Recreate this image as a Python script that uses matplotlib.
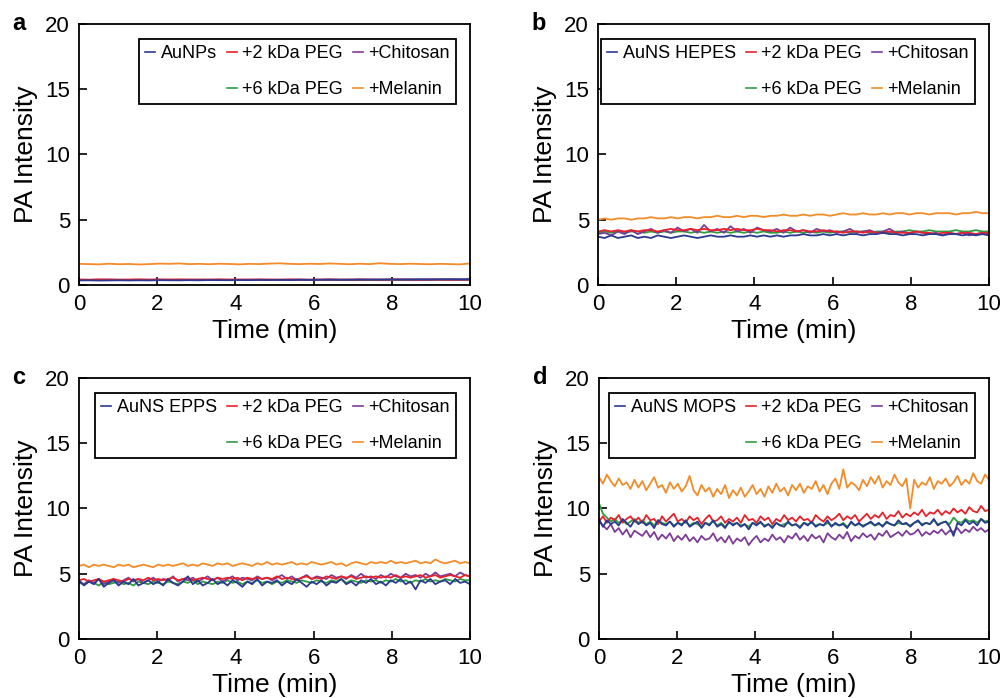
import numpy as np
import matplotlib
matplotlib.use('Agg')
import matplotlib.pyplot as plt
from matplotlib.lines import Line2D

plt.rcParams['font.family'] = ['Liberation Sans', 'DejaVu Sans']

#=====================================
# series names + colours (legend order)
names_a = ['AuNPs', '+2 kDa PEG', '+Chitosan', '+6 kDa PEG', '+Melanin']
names_b = ['AuNS HEPES', '+2 kDa PEG', '+Chitosan', '+6 kDa PEG', '+Melanin']
names_c = ['AuNS EPPS', '+2 kDa PEG', '+Chitosan', '+6 kDa PEG', '+Melanin']
names_d = ['AuNS MOPS', '+2 kDa PEG', '+Chitosan', '+6 kDa PEG', '+Melanin']
colors = ['#2b3990', '#e8222a', '#7d3c98', '#2e9e3e', '#f28c28']

#=====================================
# panel a
a_blue = [0.35, 0.36, 0.34, 0.35, 0.36, 0.35, 0.36, 0.35, 0.37, 0.36,
          0.36, 0.37, 0.36, 0.38, 0.37, 0.37, 0.38, 0.37, 0.39, 0.38,
          0.39, 0.38, 0.40, 0.39, 0.40, 0.41, 0.40, 0.41, 0.42, 0.41,
          0.42, 0.43, 0.42, 0.43, 0.44, 0.43, 0.44, 0.45, 0.44, 0.45]
a_red = [0.42, 0.41, 0.43, 0.42, 0.41, 0.42, 0.43, 0.41, 0.42, 0.42,
         0.43, 0.42, 0.41, 0.42, 0.43, 0.42, 0.42, 0.41, 0.43, 0.42,
         0.42, 0.43, 0.42, 0.41, 0.42, 0.43, 0.42, 0.42, 0.43, 0.42,
         0.41, 0.42, 0.43, 0.42, 0.42, 0.43, 0.42, 0.41, 0.42, 0.42]
a_purple = [0.40, 0.39, 0.40, 0.41, 0.40, 0.39, 0.40, 0.40, 0.41, 0.40,
            0.39, 0.40, 0.41, 0.40, 0.40, 0.39, 0.40, 0.41, 0.40, 0.40,
            0.39, 0.40, 0.41, 0.40, 0.40, 0.41, 0.40, 0.39, 0.40, 0.41,
            0.40, 0.40, 0.41, 0.40, 0.39, 0.40, 0.41, 0.40, 0.40, 0.41]
a_green = [0.38, 0.37, 0.38, 0.39, 0.38, 0.37, 0.38, 0.38, 0.39, 0.38,
           0.37, 0.38, 0.39, 0.38, 0.38, 0.37, 0.38, 0.39, 0.38, 0.38,
           0.37, 0.38, 0.39, 0.38, 0.38, 0.39, 0.38, 0.37, 0.38, 0.39,
           0.38, 0.38, 0.39, 0.38, 0.37, 0.38, 0.39, 0.38, 0.38, 0.39]
a_orange = [1.62, 1.60, 1.58, 1.63, 1.59, 1.61, 1.57, 1.60, 1.64, 1.62,
            1.65, 1.60, 1.62, 1.59, 1.63, 1.61, 1.58, 1.62, 1.60, 1.64,
            1.66, 1.62, 1.60, 1.63, 1.61, 1.65, 1.62, 1.59, 1.63, 1.60,
            1.67, 1.62, 1.60, 1.63, 1.61, 1.59, 1.62, 1.60, 1.58, 1.65]

#=====================================
# panel b
b_blue = [3.7, 3.6, 3.8, 3.6, 3.7, 3.8, 3.6, 3.7, 3.6, 3.8,
          3.7, 3.6, 3.7, 3.8, 3.7, 3.6, 3.7, 3.8, 3.7, 3.7,
          3.8, 3.7, 3.7, 3.8, 3.7, 3.8, 3.7, 3.8, 3.7, 3.8,
          3.8, 3.9, 3.8, 3.8, 3.9, 3.8, 3.9, 3.8, 3.9, 3.9,
          3.8, 3.9, 3.9, 4.0, 3.9, 3.9, 3.8, 3.9, 3.9, 3.8,
          3.9, 3.9, 3.8, 3.9, 3.9, 3.8, 3.9, 3.8, 3.9, 3.8]
b_red = [4.1, 4.2, 4.1, 4.2, 4.1, 4.2, 4.1, 4.2, 4.2, 4.1,
         4.2, 4.3, 4.2, 4.2, 4.3, 4.2, 4.3, 4.2, 4.2, 4.3,
         4.2, 4.3, 4.2, 4.2, 4.3, 4.2, 4.2, 4.1, 4.2, 4.2,
         4.1, 4.2, 4.1, 4.1, 4.2, 4.1, 4.1, 4.0, 4.1, 4.1,
         4.0, 4.1, 4.0, 4.0, 4.1, 4.0, 4.0, 4.0, 4.1, 4.0,
         4.0, 3.9, 4.0, 4.0, 3.9, 4.0, 4.0, 3.9, 4.0, 4.0]
b_purple = [3.9, 4.0, 3.8, 4.1, 3.9, 4.2, 3.9, 4.1, 4.3, 4.0,
            4.2, 4.0, 4.4, 4.1, 4.3, 4.0, 4.6, 4.1, 4.3, 4.0,
            4.5, 4.1, 4.3, 4.0, 4.4, 4.2, 4.1, 4.3, 4.0, 4.4,
            4.1, 4.2, 4.0, 4.3, 4.1, 4.2, 4.0, 4.1, 4.3, 4.0,
            4.1, 4.2, 4.0, 4.1, 4.3, 4.0, 4.1, 3.9, 4.1, 4.0,
            3.9, 4.0, 3.8, 4.0, 3.9, 4.0, 3.8, 3.9, 4.0, 3.9]
b_green = [4.0, 4.1, 4.0, 4.1, 4.0, 4.1, 4.1, 4.0, 4.1, 4.0,
           4.1, 4.0, 4.1, 4.1, 4.0, 4.1, 4.0, 4.1, 4.0, 4.1,
           4.0, 4.1, 4.0, 4.1, 4.0, 4.1, 4.0, 4.0, 4.1, 4.0,
           4.1, 4.0, 4.1, 4.0, 4.1, 4.0, 4.1, 4.1, 4.0, 4.1,
           4.1, 4.0, 4.1, 4.1, 4.0, 4.1, 4.1, 4.2, 4.1, 4.1,
           4.2, 4.1, 4.1, 4.1, 4.2, 4.1, 4.1, 4.2, 4.1, 4.1]
b_orange = [5.0, 5.1, 5.0, 5.1, 5.1, 5.0, 5.1, 5.1, 5.2, 5.1,
            5.1, 5.2, 5.1, 5.2, 5.2, 5.1, 5.2, 5.2, 5.3, 5.2,
            5.2, 5.3, 5.2, 5.3, 5.3, 5.2, 5.3, 5.3, 5.4, 5.3,
            5.3, 5.4, 5.3, 5.4, 5.4, 5.3, 5.4, 5.5, 5.4, 5.4,
            5.5, 5.4, 5.4, 5.5, 5.4, 5.5, 5.5, 5.4, 5.5, 5.5,
            5.4, 5.5, 5.5, 5.5, 5.4, 5.5, 5.5, 5.6, 5.5, 5.5]

#=====================================
# panel c
c_blue = [4.5, 4.1, 4.4, 4.2, 4.6, 4.0, 4.3, 4.5, 4.1, 4.4,
          4.2, 4.6, 4.1, 4.3, 4.5, 4.2, 4.4, 4.1, 4.6, 4.3,
          4.1, 4.4, 4.8, 4.2, 4.5, 4.1, 4.3, 4.6, 4.2, 4.4,
          4.1, 4.5, 4.3, 4.0, 4.4, 4.2, 4.6, 4.1, 4.4, 4.3,
          4.5, 4.1, 4.4, 4.2, 4.6, 4.3, 4.0, 4.4, 4.2, 4.5,
          4.1, 4.4, 4.3, 4.6, 4.2, 4.4, 4.1, 4.5, 4.3, 4.6,
          4.2, 4.4, 4.1, 4.5, 4.3, 4.6, 4.2, 4.4, 3.8, 4.5,
          4.3, 4.6, 4.2, 4.4, 4.5, 4.2, 4.6, 4.3, 4.4, 4.2]
c_red = [4.5, 4.6, 4.4, 4.5, 4.6, 4.4, 4.5, 4.6, 4.5, 4.4,
         4.6, 4.5, 4.6, 4.5, 4.7, 4.5, 4.6, 4.5, 4.6, 4.7,
         4.5, 4.6, 4.7, 4.5, 4.6, 4.7, 4.6, 4.5, 4.7, 4.6,
         4.7, 4.6, 4.7, 4.5, 4.7, 4.6, 4.7, 4.6, 4.7, 4.6,
         4.8, 4.6, 4.7, 4.6, 4.5, 4.7, 4.8, 4.6, 4.7, 4.6,
         4.8, 4.7, 4.6, 4.8, 4.7, 4.8, 4.6, 4.7, 4.8, 4.7,
         4.8, 4.7, 4.8, 4.7, 4.9, 4.7, 4.8, 4.7, 4.8, 4.9,
         4.7, 4.8, 4.9, 4.7, 4.8, 4.9, 4.8, 4.7, 4.9, 4.8]
c_purple = [4.4, 4.2, 4.5, 4.3, 4.6, 4.2, 4.4, 4.6, 4.3, 4.5,
            4.7, 4.4, 4.6, 4.3, 4.5, 4.7, 4.4, 4.6, 4.5, 4.8,
            4.4, 4.6, 4.5, 4.7, 4.4, 4.6, 4.8, 4.5, 4.7, 4.4,
            4.6, 4.8, 4.5, 4.7, 4.6, 4.5, 4.8, 4.6, 4.7, 4.5,
            4.7, 4.9, 4.6, 4.8, 4.5, 4.7, 4.9, 4.6, 4.8, 4.7,
            4.6, 4.9, 4.7, 4.8, 4.6, 4.9, 4.7, 5.0, 4.7, 4.8,
            4.6, 4.9, 4.7, 5.0, 4.8, 4.7, 5.0, 4.8, 4.9, 4.7,
            5.0, 4.8, 5.1, 4.8, 4.9, 5.0, 4.8, 5.1, 4.9, 4.8]
c_green = [4.3, 4.2, 4.4, 4.3, 4.1, 4.4, 4.2, 4.3, 4.4, 4.2,
           4.3, 4.1, 4.4, 4.3, 4.2, 4.4, 4.3, 4.2, 4.4, 4.3,
           4.2, 4.4, 4.3, 4.5, 4.2, 4.4, 4.3, 4.2, 4.4, 4.3,
           4.5, 4.3, 4.4, 4.2, 4.4, 4.3, 4.5, 4.3, 4.4, 4.2,
           4.4, 4.3, 4.5, 4.4, 4.3, 4.5, 4.4, 4.3, 4.5, 4.4,
           4.3, 4.5, 4.4, 4.6, 4.3, 4.5, 4.4, 4.3, 4.5, 4.4,
           4.5, 4.3, 4.5, 4.4, 4.6, 4.4, 4.5, 4.3, 4.5, 4.4,
           4.6, 4.4, 4.5, 4.4, 4.6, 4.5, 4.4, 4.6, 4.5, 4.5]
c_orange = [5.6, 5.7, 5.5, 5.7, 5.6, 5.7, 5.6, 5.5, 5.7, 5.6,
            5.7, 5.5, 5.6, 5.7, 5.6, 5.5, 5.7, 5.6, 5.7, 5.6,
            5.7, 5.8, 5.6, 5.7, 5.6, 5.8, 5.7, 5.6, 5.8, 5.7,
            5.8, 5.6, 5.7, 5.8, 5.7, 5.6, 5.8, 5.7, 5.9, 5.7,
            5.8, 5.7, 5.8, 5.9, 5.7, 5.8, 5.7, 5.9, 5.8, 5.7,
            5.8, 5.9, 5.7, 5.8, 5.6, 5.8, 5.9, 5.8, 5.7, 5.9,
            5.8, 5.9, 5.8, 6.0, 5.8, 5.9, 5.8, 5.9, 6.0, 5.8,
            5.9, 5.8, 6.1, 5.9, 5.8, 5.9, 6.0, 5.8, 5.9, 5.8]

#=====================================
# panel d
d_blue = [9.2, 8.6, 9.1, 8.8, 9.0, 8.7, 9.2, 8.9, 8.6, 9.1,
          8.8, 9.0, 8.7, 8.9, 8.5, 9.1, 8.8, 8.7, 9.0, 8.6,
          8.9, 8.7, 9.1, 8.6, 8.8, 9.0, 8.5, 8.9, 8.7, 9.1,
          8.6, 8.8, 8.5, 9.0, 8.7, 8.9, 8.6, 8.8, 8.4, 8.9,
          8.7, 9.0, 8.6, 8.8, 8.5, 8.9, 8.7, 8.6, 9.0, 8.7,
          8.8, 8.5, 8.9, 8.7, 9.0, 8.6, 8.8, 8.7, 9.1, 8.6,
          8.9, 8.7, 8.8, 8.5, 9.0, 8.7, 8.9, 8.6, 8.8, 9.0,
          8.7, 8.9, 8.6, 9.0, 8.8, 8.7, 9.1, 8.8, 8.9, 8.6,
          8.9, 9.1, 8.7, 8.9, 8.8, 9.2, 8.7, 8.9, 9.0, 8.6,
          7.9, 8.9, 8.7, 9.1, 8.8, 9.0, 8.7, 9.2, 8.9, 9.0]
d_red = [9.0, 9.4, 8.9, 9.3, 9.1, 9.5, 8.9, 9.2, 9.4, 9.0,
         9.3, 8.9, 9.5, 9.1, 9.2, 8.8, 9.4, 9.0, 9.3, 9.6,
         9.0, 9.2, 8.9, 9.4, 9.1, 9.3, 8.8, 9.2, 9.5, 9.0,
         9.1, 9.4, 8.9, 9.2, 9.0, 9.3, 8.9, 9.5, 9.1, 9.2,
         8.9, 9.4, 9.1, 9.3, 8.8, 9.2, 9.0, 9.5, 9.1, 9.3,
         9.0, 9.4, 9.1, 9.2, 8.9, 9.5, 9.2, 9.0, 9.4, 9.1,
         9.3, 9.6, 9.1, 9.4, 9.2, 9.5, 9.0, 9.3, 9.6, 9.2,
         9.5, 9.3, 9.7, 9.2, 9.5, 9.4, 9.8, 9.3, 9.6, 9.4,
         9.7, 9.5, 9.9, 9.4, 9.7, 9.6, 9.9, 9.5, 9.8, 9.6,
         10.0, 9.7, 9.9, 9.6, 10.1, 9.8, 9.7, 10.2, 9.8, 9.9]
d_purple = [9.0, 8.7, 8.4, 8.8, 8.2, 8.5, 8.0, 8.4, 7.8, 8.3,
            8.1, 7.9, 8.3, 7.8, 8.2, 7.6, 8.0, 7.7, 8.1, 7.5,
            7.9, 7.6, 8.0, 7.5, 7.8, 7.4, 7.9, 7.6, 7.7, 8.1,
            7.5, 7.8, 7.4, 7.9, 7.3, 7.7, 7.5, 7.8, 7.2, 7.6,
            7.9, 7.4, 7.7, 7.5, 8.0, 7.6, 7.8, 7.4, 7.9, 7.7,
            8.1, 7.6, 7.9, 7.5, 8.0, 7.7, 7.9, 7.4, 8.1, 7.8,
            7.6, 8.0, 7.7, 8.2, 7.5, 7.9, 7.7, 8.1, 7.8, 8.0,
            7.6, 8.1, 7.9, 8.3, 7.8, 8.0, 8.2, 7.9, 8.3, 8.0,
            8.1, 8.4, 7.9, 8.2, 8.0, 8.3, 8.1, 8.4, 8.0, 8.3,
            8.2, 8.5, 8.1, 8.4, 8.2, 8.6, 8.3, 8.5, 8.2, 8.4]
d_green = [10.4, 9.6, 9.3, 9.0, 9.2, 8.9, 9.1, 8.8, 9.0, 9.2,
           8.9, 9.1, 8.8, 9.0, 8.7, 9.1, 8.9, 8.8, 9.0, 8.7,
           8.9, 8.8, 9.0, 8.7, 8.9, 8.8, 8.6, 8.9, 8.8, 9.0,
           8.7, 8.9, 8.6, 8.9, 8.8, 8.9, 8.7, 8.8, 8.6, 8.9,
           8.8, 8.9, 8.7, 8.8, 8.6, 8.9, 8.7, 8.8, 8.9, 8.7,
           8.8, 8.6, 8.9, 8.8, 8.9, 8.7, 8.8, 8.7, 8.9, 8.7,
           8.8, 8.7, 8.9, 8.6, 8.9, 8.7, 8.8, 8.7, 8.8, 8.9,
           8.7, 8.8, 8.7, 8.9, 8.8, 8.7, 8.9, 8.8, 8.8, 8.7,
           8.9, 9.0, 8.8, 8.9, 8.8, 9.1, 8.8, 8.9, 9.0, 8.8,
           9.3, 9.0, 8.9, 9.2, 9.0, 9.1, 8.9, 9.2, 9.0, 9.1]
d_orange = [12.4, 11.9, 12.6, 12.1, 11.7, 12.3, 11.8, 12.0, 11.5, 12.2,
            11.6, 12.1, 11.4, 11.9, 12.4, 11.6, 11.8, 11.2, 12.0, 11.5,
            11.9, 11.3, 11.7, 12.5, 11.4, 11.0, 11.8, 11.3, 11.6, 10.9,
            11.5, 11.1, 11.8, 10.8, 11.4, 11.0, 11.6, 10.9, 11.3, 11.8,
            11.1, 11.5, 10.9, 11.7, 11.2, 11.9, 11.3, 11.6, 11.0, 11.8,
            11.4, 11.9, 11.2, 11.7, 11.5, 12.1, 11.3, 11.8, 11.1, 11.9,
            12.3, 11.5, 13.0, 11.6, 12.0, 11.8, 11.4, 12.2, 11.7, 12.4,
            11.9, 12.5, 11.6, 12.1, 11.8, 12.6, 12.0, 11.7, 12.3, 10.0,
            12.2, 11.6, 12.0, 11.8, 12.4, 11.5, 12.1, 11.9, 12.3, 11.7,
            12.0, 12.5, 11.8, 12.2, 11.9, 12.7, 12.1, 11.9, 12.6, 12.2]

x_ticks = [0, 2, 4, 6, 8, 10]
y_ticks = [0, 5, 10, 15, 20]

#=====================================

def draw_panel(ax, letter, names, series):
    '''series in legend order: base, 2k, chitosan, 6k, melanin'''
    # draw order so that the base trace sits on top of green / purple
    for i in [3, 2, 1, 0, 4]:
        y = series[i]
        t = np.linspace(0, 10, len(y))
        ax.plot(t, y, color=colors[i], lw=1.3)

    ax.set_xlim(0, 10)
    ax.set_ylim(0, 20)
    ax.set_xticks(x_ticks)
    ax.set_yticks(y_ticks)
    ax.tick_params(direction='in', length=6, width=1.2, labelsize=16, pad=6.5)
    for s in ax.spines.values():
        s.set_linewidth(1.3)
    ax.set_xlabel('Time (min)', fontsize=19, labelpad=3)
    ax.set_ylabel('PA Intensity', fontsize=19, labelpad=5)
    ax.text(-0.17, 1.0, letter, transform=ax.transAxes, fontsize=17,
            fontweight='bold', va='center', ha='left')

    # 3 columns, filled column-wise; blank slot under the first entry
    h = [Line2D([], [], color=c, lw=1.2) for c in colors]
    blank = Line2D([], [], color='none')
    handles = [h[0], blank, h[1], h[3], h[2], h[4]]
    labels = [names[0], '', names[1], names[3], names[2], names[4]]
    leg = ax.legend(handles, labels, ncol=3, loc='upper right',
                    bbox_to_anchor=(0.964, 0.943), borderaxespad=0,
                    fontsize=13, handlelength=0.55, handletextpad=0.3,
                    columnspacing=0.55, labelspacing=1.05, borderpad=0.35,
                    fancybox=False, framealpha=1, edgecolor='black')
    leg.get_frame().set_linewidth(1.3)


def main():
    fig = plt.figure(figsize=(10, 6.98), dpi=100)
    ax_a = fig.add_axes([0.079, 0.5917, 0.391, 0.374])
    ax_b = fig.add_axes([0.598, 0.5917, 0.391, 0.374])
    ax_c = fig.add_axes([0.079, 0.0845, 0.391, 0.374])
    ax_d = fig.add_axes([0.599, 0.0845, 0.390, 0.374])

    draw_panel(ax_a, 'a', names_a, [a_blue, a_red, a_purple, a_green, a_orange])
    draw_panel(ax_b, 'b', names_b, [b_blue, b_red, b_purple, b_green, b_orange])
    draw_panel(ax_c, 'c', names_c, [c_blue, c_red, c_purple, c_green, c_orange])
    draw_panel(ax_d, 'd', names_d, [d_blue, d_red, d_purple, d_green, d_orange])

    fig.savefig('out.png', dpi=100)

#=====================================

if __name__ == "__main__":
    main()
